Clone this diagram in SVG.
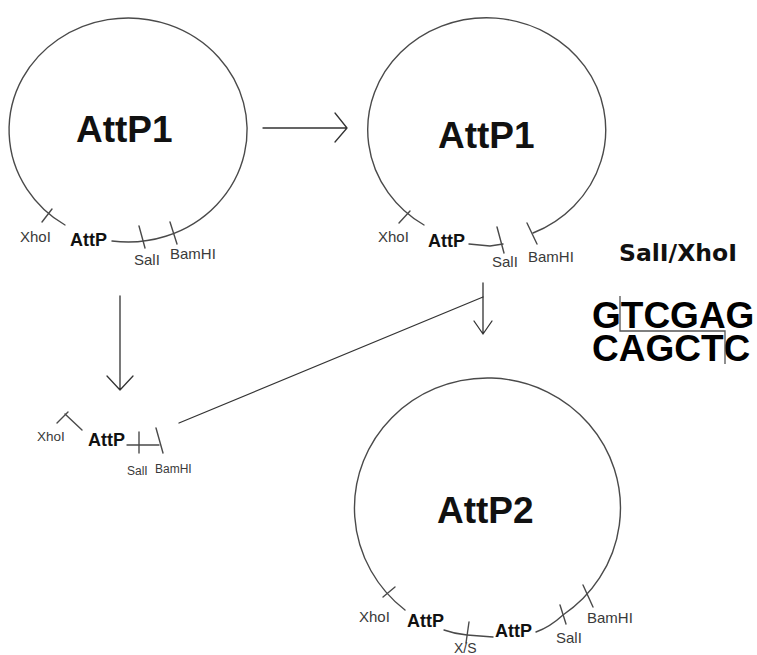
<svg xmlns="http://www.w3.org/2000/svg" width="757" height="655" viewBox="0 0 757 655">
<style>
.ln{fill:none;stroke:#4a4a4a;stroke-width:1.4;stroke-linecap:round;stroke-linejoin:round}
.ar{fill:none;stroke:#333;stroke-width:1.3;stroke-linecap:round;stroke-linejoin:round}
.big{font-family:"Liberation Sans",Arial,sans-serif;font-weight:bold;font-size:37px;fill:#111}
.att{font-family:"Liberation Sans",Arial,sans-serif;font-weight:bold;font-size:18px;fill:#111}
.lab{font-family:"Liberation Sans",Arial,sans-serif;font-size:15px;fill:#3a3a3a}
.sm{font-family:"Liberation Sans",Arial,sans-serif;font-size:12px;fill:#3a3a3a}
.seq{font-family:"Liberation Sans",Arial,sans-serif;font-weight:bold;font-size:37px;fill:#000}
</style>
<rect width="757" height="655" fill="#fff"/>
<g id="plasmid1">
<path class="ln" d="M65,225 A119,112 0 1 1 112,241"/>
<path class="ln" d="M42,222 L52,209"/>
<path class="ln" d="M139,226 L145,248"/>
<path class="ln" d="M170,222 L177,244"/>
<text class="big" x="76" y="142">AttP1</text>
<text class="lab" x="20" y="242">XhoI</text>
<text class="att" x="70" y="246">AttP</text>
<text class="lab" x="134" y="265">SalI</text>
<text class="lab" x="170" y="259">BamHI</text>
</g>
<g id="plasmid1b">
<path class="ln" d="M424,225 A119,112 0 1 1 533,233"/>
<path class="ln" d="M469,244 L490,246 L503,244"/>
<path class="ln" d="M399,223 L410,211"/>
<path class="ln" d="M497,227 L504,253"/>
<path class="ln" d="M527,223 L537,244"/>
<text class="big" x="438" y="148">AttP1</text>
<text class="lab" x="378" y="242">XhoI</text>
<text class="att" x="428" y="247">AttP</text>
<text class="lab" x="492" y="267">SalI</text>
<text class="lab" x="528" y="262">BamHI</text>
</g>
<g id="fragment">
<path class="ln" d="M82,430 L65,414"/>
<path class="ln" d="M57,423 L68,412"/>
<path class="ln" d="M127,445 L159,445"/>
<path class="ln" d="M139,432 L139,453"/>
<path class="ln" d="M156,428 L163,453"/>
<text class="sm" x="37" y="441" style="font-size:13.5px">XhoI</text>
<text class="att" x="88" y="446">AttP</text>
<text class="sm" x="127" y="475">SalI</text>
<text class="sm" x="155" y="473">BamHI</text>
</g>
<g id="plasmid2">
<path class="ln" d="M405,610 A133,130 0 1 1 563,615 Q550,627 536,632"/>
<path class="ln" d="M444,630 Q455,634 467,635 L493,637"/>
<path class="ln" d="M383,597 L395,587"/>
<path class="ln" d="M469,622 L466,643"/>
<path class="ln" d="M560,605 L566,624"/>
<path class="ln" d="M583,585 L593,607"/>
<text class="big" x="437" y="523">AttP2</text>
<text class="lab" x="359" y="622">XhoI</text>
<text class="att" x="407" y="627">AttP</text>
<text class="lab" x="454" y="652.5" style="font-size:14px">X/S</text>
<text class="att" x="495" y="637">AttP</text>
<text class="lab" x="556" y="643">SalI</text>
<text class="lab" x="587" y="623">BamHI</text>
</g>
<g id="site">
<text x="619" y="261" style="font-family:'DejaVu Sans',Verdana,sans-serif;font-weight:bold;font-size:23.5px;fill:#111">SalI/XhoI</text>
<text class="seq" x="592" y="328">GTCGAG</text>
<text class="seq" x="592" y="361">CAGCTC</text>
<path fill="none" stroke="#555" stroke-width="1.3" d="M620,296 L620,331 L725,331 L725,364"/>
</g>
<g id="connectors">
<path class="ar" d="M263,128 L347,128 M335,113 L347,128 L335,142"/>
<path class="ar" d="M120,296 L120,390 M107,376 L120,390 L133,376"/>
<path class="ar" d="M483,283 L483,334 M474,321 L483,334 L492,321"/>
<path class="ar" d="M179,423 L483,297"/>
</g>
</svg>
